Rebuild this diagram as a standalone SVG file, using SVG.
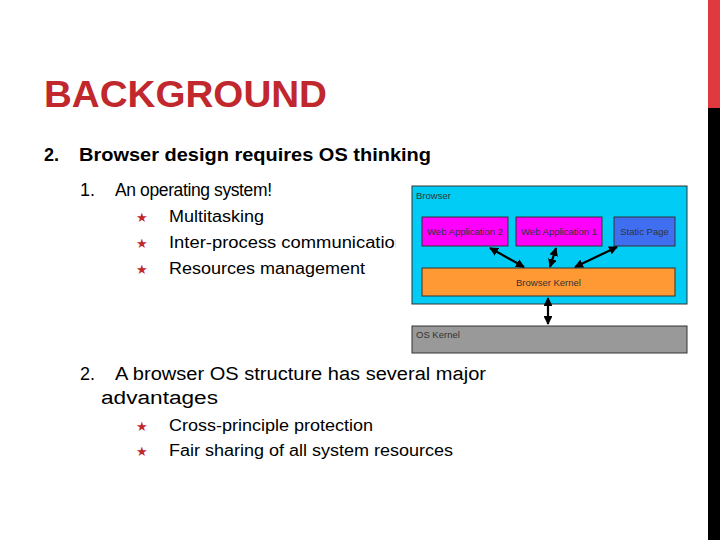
<svg xmlns="http://www.w3.org/2000/svg" width="720" height="540" viewBox="0 0 720 540">
<style>
.t{font-family:"Liberation Sans",Arial,sans-serif;fill:#000}
.r{fill:#c0282d}
.s{font-size:9.5px;fill:#333}
.b{stroke:#333;stroke-width:1}
.c{stroke:#000;stroke-width:2.2;fill:none;marker-start:url(#a);marker-end:url(#a)}
</style>
<defs><marker id="a" viewBox="0 0 10 10" refX="9" refY="5" markerWidth="4" markerHeight="4" orient="auto-start-reverse"><path d="M0,0L10,5L0,10z" fill="#000"/></marker></defs>
<rect width="720" height="540" fill="#fff"/>
<rect x="708" y="0" width="12" height="108" fill="#e0393e"/>
<rect x="708" y="108" width="12" height="432" fill="#000"/>
<text x="44" y="107" class="t r" font-size="36" font-weight="bold" textLength="283" lengthAdjust="spacingAndGlyphs">BACKGROUND</text>
<text x="44" y="161" class="t" font-size="18" font-weight="bold">2.</text>
<text x="79" y="161" class="t" font-size="18" font-weight="bold" textLength="352" lengthAdjust="spacingAndGlyphs">Browser design requires OS thinking</text>
<text x="80" y="196" class="t" font-size="18">1.</text>
<text x="115" y="196" class="t" font-size="17.5" textLength="157" lengthAdjust="spacing">An operating system!</text>
<g class="t" font-size="16">
<text x="136" y="222" class="r" font-size="13">★</text><text x="169" y="222" textLength="95" lengthAdjust="spacingAndGlyphs">Multitasking</text>
<text x="136" y="248" class="r" font-size="13">★</text><text x="169" y="248" textLength="236" lengthAdjust="spacingAndGlyphs">Inter-process communication</text>
<text x="136" y="274" class="r" font-size="13">★</text><text x="169" y="274" textLength="196" lengthAdjust="spacingAndGlyphs">Resources management</text>
</g>
<text x="80" y="380" class="t" font-size="18">2.</text>
<text x="115" y="380" class="t" font-size="18" textLength="371" lengthAdjust="spacingAndGlyphs">A browser OS structure has several major</text>
<text x="101" y="404" class="t" font-size="18" textLength="117" lengthAdjust="spacingAndGlyphs">advantages</text>
<g class="t" font-size="16">
<text x="136" y="431" class="r" font-size="13">★</text><text x="169" y="431" textLength="204" lengthAdjust="spacingAndGlyphs">Cross-principle protection</text>
<text x="136" y="456" class="r" font-size="13">★</text><text x="169" y="456" textLength="284" lengthAdjust="spacingAndGlyphs">Fair sharing of all system resources</text>
</g>
<rect x="396" y="180" width="296" height="178" fill="#fff"/>
<g id="browser"><rect x="412" y="186" width="275" height="118" fill="#00ccf5" class="b"/><text x="416" y="199" class="t s">Browser</text></g>
<g id="webapp2"><rect x="422" y="217" width="86" height="29" fill="#f0f" class="b"/><text x="465" y="235" class="t s" text-anchor="middle">Web Application 2</text></g>
<g id="webapp1"><rect x="516" y="217" width="86" height="29" fill="#f0f" class="b"/><text x="559" y="235" class="t s" text-anchor="middle">Web Application 1</text></g>
<g id="static"><rect x="614" y="217" width="61" height="29" fill="#3f6ff0" class="b"/><text x="644.5" y="235" class="t s" text-anchor="middle">Static Page</text></g>
<g id="kernel"><rect x="422" y="268" width="253" height="28" fill="#ff9933" class="b"/><text x="548.5" y="286" class="t s" text-anchor="middle">Browser Kernel</text></g>
<g id="oskernel"><rect x="412" y="326" width="275" height="27" fill="#999" class="b"/><text x="416" y="338" class="t s">OS Kernel</text></g>
<g id="connectors">
<line x1="490" y1="248" x2="524" y2="267" class="c"/>
<line x1="556" y1="248" x2="550" y2="267" class="c"/>
<line x1="575" y1="267" x2="617" y2="247" class="c"/>
<line x1="548" y1="298" x2="548" y2="324" class="c"/>
</g>
</svg>
